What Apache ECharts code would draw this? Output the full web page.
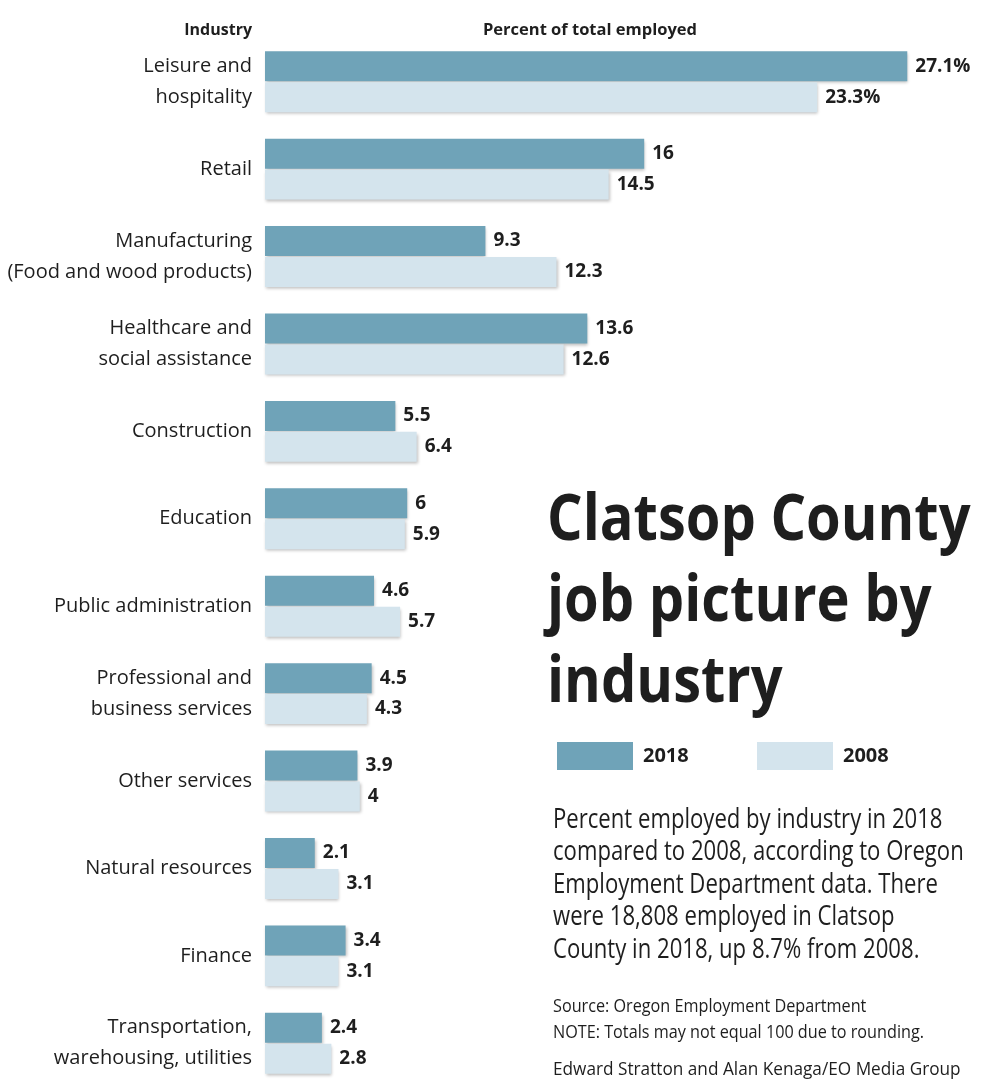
<!DOCTYPE html>
<html>
<head>
<meta charset="utf-8">
<script src="https://cdn.jsdelivr.net/npm/echarts@6/dist/echarts.min.js"></script>
<style>
html,body{margin:0;padding:0;background:#fff;}
#chart{width:993px;height:1087px;}
</style>
</head>
<body>
<div id="chart"></div>
<script>
const categories = [
  'Leisure and\nhospitality',
  'Retail',
  'Manufacturing\n(Food and wood products)',
  'Healthcare and\nsocial assistance',
  'Construction',
  'Education',
  'Public administration',
  'Professional and\nbusiness services',
  'Other services',
  'Natural resources',
  'Finance',
  'Transportation,\nwarehousing, utilities'
];
const values2018 = [27.1, 16, 9.3, 13.6, 5.5, 6, 4.6, 4.5, 3.9, 2.1, 3.4, 2.4];
const values2008 = [23.3, 14.5, 12.3, 12.6, 6.4, 5.9, 5.7, 4.3, 4, 3.1, 3.1, 2.8];
const seriesNames = ['2018', '2008'];
const titleLines = ['Clatsop County', 'job picture by', 'industry'];
const descLines = [
  'Percent employed by industry in 2018',
  'compared to 2008, according to Oregon',
  'Employment Department data. There',
  'were 18,808 employed in Clatsop',
  'County in 2018, up 8.7% from 2008.'
];
const sourceLines = [
  'Source: Oregon Employment Department',
  'NOTE: Totals may not equal 100 due to rounding.'
];
const creditLine = 'Edward Stratton and Alan Kenaga/EO Media Group';

const DARK = '#6fa3b8';
const LIGHT = '#d4e4ed';
const INK = '#1e1e1e';
const FONT = '"Open Sans", "Noto Sans", sans-serif';

const chart = echarts.init(document.getElementById('chart'), null, {renderer: 'canvas'});

function labelFmt(p) {
  return p.dataIndex === 0 ? p.value + '%' : String(p.value);
}
const barShadow = {shadowColor: 'rgba(0,0,0,0.25)', shadowBlur: 3, shadowOffsetX: 1, shadowOffsetY: 2};
const valueLabel = {show: true, position: 'right', distance: 8, formatter: labelFmt,
  fontFamily: FONT, fontWeight: 'bold', fontSize: 19, color: INK};
const legendText = {fontFamily: FONT, fontWeight: 'bold', fontSize: 20, color: INK, padding: [0,0,0,5]};

const graphics = [
  {type: 'text', x: 252, y: 30, style: {text: 'Industry', font: 'bold 16px ' + FONT, fill: INK, textAlign: 'right', textVerticalAlign: 'middle'}},
  {type: 'text', x: 590, y: 30, style: {text: 'Percent of total employed', font: 'bold 16.5px ' + FONT, fill: INK, textAlign: 'center', textVerticalAlign: 'middle'}}
];
titleLines.forEach(function (t, i) {
  graphics.push({type: 'text', x: 547, y: 522 + i * 81, scaleX: 0.875,
    style: {text: t, font: 'bold 64px ' + FONT, fill: INK, textAlign: 'left', textVerticalAlign: 'middle'}});
});
descLines.forEach(function (t, i) {
  graphics.push({type: 'text', x: 553, y: 820 + i * 32.5, scaleX: 0.79,
    style: {text: t, font: '28px ' + FONT, fill: INK, textAlign: 'left', textVerticalAlign: 'middle'}});
});
sourceLines.forEach(function (t, i) {
  graphics.push({type: 'text', x: 553, y: 1007 + i * 26, scaleX: 0.9,
    style: {text: t, font: '18px ' + FONT, fill: INK, textAlign: 'left', textVerticalAlign: 'middle'}});
});
graphics.push({type: 'text', x: 553, y: 1070, scaleX: 0.93,
  style: {text: creditLine, font: '18.5px ' + FONT, fill: INK, textAlign: 'left', textVerticalAlign: 'middle'}});

const option = {
  backgroundColor: '#ffffff',
  animation: false,
  grid: {left: 265, top: 38, height: 1056, width: 711, containLabel: false},
  xAxis: {type: 'value', min: 0, max: 30, show: false},
  yAxis: {
    type: 'category', inverse: true, data: categories,
    axisLine: {show: false}, axisTick: {show: false}, splitLine: {show: false},
    axisLabel: {margin: 13, align: 'right', color: INK, fontFamily: FONT, fontSize: 20, lineHeight: 31}
  },
  legend: [
    {data: ['2018'], left: 557, top: 742, padding: 0, itemWidth: 76, itemHeight: 28, icon: 'rect', textStyle: legendText},
    {data: ['2008'], left: 757, top: 742, padding: 0, itemWidth: 76, itemHeight: 28, icon: 'rect', textStyle: legendText}
  ],
  series: [
    {name: seriesNames[0], type: 'bar', data: values2018, barWidth: 30, barGap: '3%',
     itemStyle: Object.assign({color: DARK}, barShadow), label: valueLabel},
    {name: seriesNames[1], type: 'bar', data: values2008, barWidth: 30,
     itemStyle: Object.assign({color: LIGHT}, barShadow), label: valueLabel}
  ],
  graphic: graphics
};
chart.setOption(option);
</script>
</body>
</html>
